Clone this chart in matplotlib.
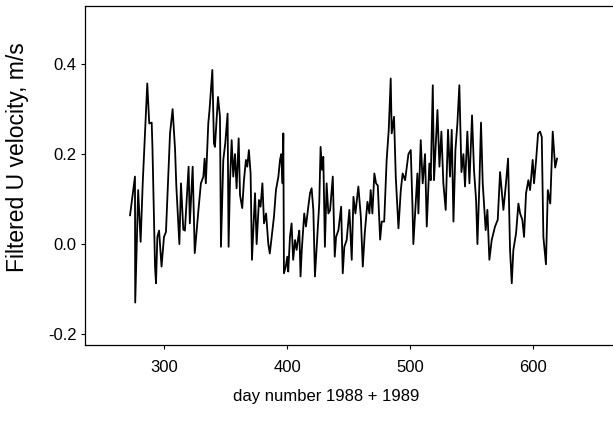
import matplotlib
matplotlib.use("Agg")
import matplotlib.pyplot as plt
from matplotlib.ticker import FormatStrFormatter

plt.rcParams['font.family'] = ['Liberation Sans', 'DejaVu Sans']

day = [272.4, 276.4, 276.6, 279, 281, 282.7, 286.4, 288, 290, 290.6, 292.7, 293.5,
       294.6, 296, 298, 300, 301.6, 304.9, 307, 308, 309, 310, 312.5, 313.8, 315.7,
       317, 320, 321, 323.3, 325, 328, 330, 332, 333, 334, 336, 337, 339.3, 340.6,
       341.4, 343.9, 345.5, 346.3, 348.2, 349.8, 351.7, 352.5, 353.6, 355, 356.3,
       357.7, 359, 360.7, 361.8, 363.6, 365, 366.6, 367.7, 369, 370.4, 371.5, 374,
       375.3, 377.2, 378.5, 380, 381.3, 383, 384.8, 386, 387.5, 389.4, 391, 393,
       394.3, 395.3, 396.4, 397, 397.5, 399, 400.2, 401, 402.4, 403.7, 405, 406.5,
       407.8, 409.2, 410, 411, 412, 414, 415.4, 417.3, 418.7, 420, 421.4, 422.7,
       424.6, 426.2, 427.3, 428.4, 429.5, 430.8, 432.2, 433.6, 435, 437.2, 438.8,
       439.9, 441.8, 444, 445.3, 446.6, 448.5, 450.7, 452.6, 454, 455.6, 458, 460,
       461.6, 463.2, 465.4, 467, 468, 469.4, 471, 472.4, 473.8, 475.7, 477, 479,
       481, 482.7, 484.3, 485.1, 487, 488.4, 490.6, 492.5, 494, 496, 498.7, 500.6,
       502, 502.7, 504.1, 506, 506.8, 508.7, 510.3, 512.2, 513.6, 515.7, 516.8,
       518.5, 519.5, 522.3, 523.9, 525.5, 527.1, 529, 530.9, 532.5, 533.9, 535.3,
       536.9, 538.5, 540.1, 541.8, 543.4, 544.7, 546.6, 548.3, 550.4, 552, 553.7,
       554.8, 556.4, 557.7, 559.1, 560.5, 561.5, 562.9, 564.5, 566.4, 569.1, 571.3,
       573.2, 574.5, 575.9, 578, 579.7, 581.3, 582.7, 584, 586.2, 588.1, 589.5,
       591.3, 592.7, 594.3, 596.2, 597.6, 599.7, 600.8, 602.5, 604.1, 605.7, 607.1,
       608.4, 610.5, 612, 614, 616, 618, 619.5]

u_vel = [0.064, 0.15, -0.13, 0.12, 0.005, 0.135, 0.357, 0.268, 0.27, 0.216, -0.05,
         -0.087, 0.016, 0.03, -0.05, 0.016, 0.027, 0.246, 0.30, 0.254, 0.21, 0.13,
         0.0, 0.135, 0.032, 0.03, 0.172, 0.046, 0.172, -0.02, 0.076, 0.135, 0.15,
         0.19, 0.135, 0.268, 0.298, 0.387, 0.224, 0.216, 0.327, 0.283, -0.006, 0.187,
         0.224, 0.29, -0.006, 0.135, 0.231, 0.15, 0.2, 0.124, 0.235, 0.109, 0.08,
         0.142, 0.187, 0.172, 0.209, 0.157, -0.035, 0.113, 0.0, 0.098, 0.083, 0.135,
         0.046, 0.068, 0.0, -0.021, 0.016, 0.061, 0.12, 0.15, 0.187, 0.2, 0.135,
         0.246, -0.065, -0.05, -0.028, -0.061, 0.016, 0.046, -0.035, 0.009, -0.013,
         0.016, 0.03, -0.072, -0.013, 0.068, 0.039, 0.083, 0.113, 0.124, 0.076,
         -0.072, 0.016, 0.09, 0.216, 0.165, 0.194, -0.006, 0.135, 0.068, 0.075,
         0.15, -0.028, 0.016, 0.031, 0.083, -0.065, -0.006, 0.009, 0.076, -0.035,
         0.105, 0.068, 0.128, 0.061, -0.05, 0.024, 0.094, 0.068, 0.12, 0.068, 0.157,
         0.135, 0.13, 0.01, 0.05, 0.05, 0.187, 0.254, 0.368, 0.246, 0.283, 0.15,
         0.035, 0.12, 0.157, 0.142, 0.2, 0.209, 0.083, 0.0, 0.068, 0.157, 0.068,
         0.231, 0.135, 0.2, 0.039, 0.179, 0.142, 0.353, 0.142, 0.298, 0.172, 0.25,
         0.135, 0.076, 0.254, 0.15, 0.254, 0.05, 0.209, 0.268, 0.353, 0.16, 0.2,
         0.128, 0.25, 0.135, 0.286, 0.165, 0.098, 0.0, 0.135, 0.27, 0.135, 0.076,
         0.031, 0.076, -0.035, 0.009, 0.039, 0.054, 0.16, 0.12, 0.076, 0.135, 0.19,
         -0.013, -0.087, -0.013, 0.024, 0.09, 0.068, 0.054, 0.016, 0.113, 0.142,
         0.12, 0.187, 0.135, 0.187, 0.246, 0.25, 0.238, 0.016, -0.045, 0.12, 0.09,
         0.25, 0.17, 0.19]

x_ticks = [300, 400, 500, 600]
y_ticks = [-0.2, 0.0, 0.2, 0.4]

fig = plt.figure(figsize=(6.13, 4.34), dpi=100)
ax = fig.add_axes([0.1387, 0.205, 0.8613, 0.781])
ax.plot(day, u_vel, color='black', linewidth=1.3)

ax.set_xlim(235.8, 665)
ax.set_ylim(-0.2244, 0.529)
ax.set_xticks(x_ticks)
ax.set_yticks(y_ticks)
ax.yaxis.set_major_formatter(FormatStrFormatter('%.1f'))
ax.tick_params(direction='out', length=3, width=0.8, labelsize=12, colors='black')
ax.tick_params(axis='x', pad=8)
ax.tick_params(axis='y', pad=3)
ax.spines['right'].set_visible(False)
for s in ['left', 'bottom', 'top']:
    ax.spines[s].set_linewidth(0.9)

ax.set_xlabel('day number 1988 + 1989', fontsize=12)
ax.set_ylabel('Filtered U velocity, m/s', fontsize=16.5)
ax.xaxis.set_label_coords(0.456, -0.13)
ax.yaxis.set_label_coords(-0.106, 0.555)

fig.savefig('out.png', dpi=100)
